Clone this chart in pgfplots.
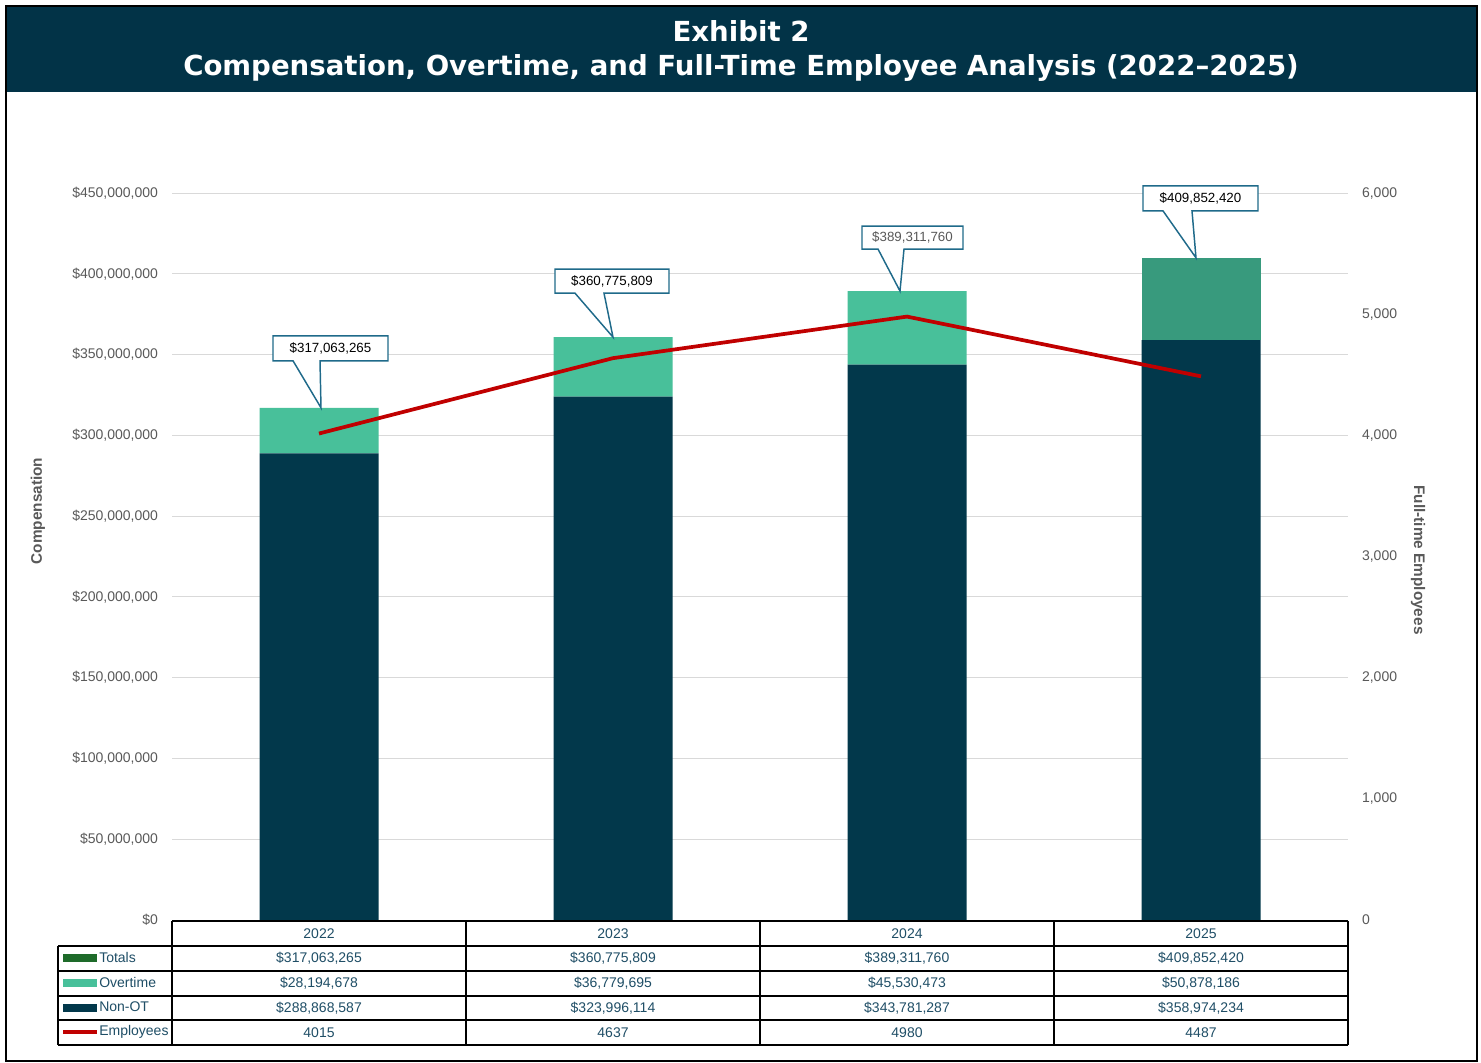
\documentclass[border=0pt]{standalone}
\usepackage{pgfplots}
\pgfplotsset{compat=1.18}
\usepackage{fontspec}
\setmainfont{Liberation Sans}
\newfontfamily\titlefont{DejaVu Sans}
\definecolor{navy}{HTML}{023347}
\definecolor{nonot}{HTML}{02384B}
\definecolor{ot}{HTML}{48C09A}
\definecolor{otdark}{HTML}{389A7D}
\definecolor{totg}{HTML}{1E6B2A}
\definecolor{empred}{HTML}{C00000}
\definecolor{tabtext}{HTML}{1F4E66}
\definecolor{callb}{HTML}{1F6A8A}
\definecolor{ticktxt}{HTML}{595959}
\definecolor{gridc}{HTML}{D9D9D9}
\newcommand{\nf}{\fontsize{10.5}{12}\selectfont}
\newcommand{\cf}{\fontsize{10}{12}\selectfont}
\begin{document}
\begin{tikzpicture}
% frame, title
\begin{scope}[x=0.75pt,y=-0.75pt]
\useasboundingbox (0,0) rectangle (1481,1063);
\fill[white] (0,0) rectangle (1481,1063);
\fill[navy] (7,7) rectangle (1477,92);
\draw[black, line width=1.5pt] (6,6) rectangle (1477,1061);
\node[text=white, font=\titlefont\bfseries\fontsize{20.7}{25}\selectfont, align=center] at (741,51)
  {Exhibit 2\\[1pt]Compensation, Overtime, and Full-Time Employee Analysis (2022–2025)};
\node[rotate=90, text=ticktxt, font=\bfseries\fontsize{11.5}{13}\selectfont] at (38,511) {Compensation};
\node[rotate=-90, text=ticktxt, font=\bfseries\fontsize{11.5}{13}\selectfont] at (1418,560) {Full-time Employees};
\end{scope}

\begin{axis}[
  at={(129pt,-690pt)}, anchor=south west,
  width=882pt, height=545.25pt, scale only axis,
  xmin=-0.5, xmax=3.5, ymin=0, ymax=450000000,
  ybar stacked, bar width=89.25pt,
  xtick=\empty,
  scaled y ticks=false,
  ytick={0,50000000,100000000,150000000,200000000,250000000,300000000,350000000,400000000,450000000},
  yticklabels={{\$0},{\$50,000,000},{\$100,000,000},{\$150,000,000},{\$200,000,000},{\$250,000,000},{\$300,000,000},{\$350,000,000},{\$400,000,000},{\$450,000,000}},
  ymajorgrids, grid style={gridc, line width=0.75pt},
  axis line style={draw=none},
  major tick length=0pt,
  yticklabel style={font=\nf, text=ticktxt, xshift=-7pt},
  clip=false,
]
\addplot[fill=nonot, draw=none] coordinates {(0,288868587) (1,323996114) (2,343781287) (3,358974234)};
\addplot[fill=ot, draw=none] coordinates {(0,28194678) (1,36779695) (2,45530473) (3,0)};
\addplot[fill=otdark, draw=none] coordinates {(0,0) (1,0) (2,0) (3,50878186)};
\coordinate (t0) at (axis cs:0,317063265);
\coordinate (t1) at (axis cs:1,360775809);
\coordinate (t2) at (axis cs:2,389311760);
\coordinate (t3) at (axis cs:3,409852420);
\end{axis}

\begin{axis}[
  at={(129pt,-690pt)}, anchor=south west,
  width=882pt, height=545.25pt, scale only axis,
  xmin=-0.5, xmax=3.5, ymin=0, ymax=6000,
  axis x line=none, axis y line*=right,
  axis line style={draw=none},
  major tick length=0pt,
  scaled y ticks=false,
  ytick={0,1000,2000,3000,4000,5000,6000},
  yticklabels={0,{1,000},{2,000},{3,000},{4,000},{5,000},{6,000}},
  yticklabel style={font=\nf, text=ticktxt, xshift=7pt},
  clip=false,
]
\addplot[empred, line width=2.8pt, mark=none] coordinates {(0,4015) (1,4637) (2,4980) (3,4487)};
\end{axis}

% callouts
\tikzset{callout/.style={fill=white, draw=callb, line width=1.1pt, line join=miter}}
\begin{scope}[shift={(t0)}, x=0.75pt, y=-0.75pt]
\draw[callout] (-46,-72) -- (69,-72) -- (69,-47) -- (1,-47) -- (2,0) -- (-26,-47) -- (-46,-47) -- cycle;
\node[font=\cf, text=black] at (11.5,-59.5) {\$317,063,265};
\end{scope}
\begin{scope}[shift={(t1)}, x=0.75pt, y=-0.75pt]
\draw[callout] (-58,-68) -- (56,-68) -- (56,-44) -- (-9,-44) -- (0,0) -- (-38,-44) -- (-58,-44) -- cycle;
\node[font=\cf, text=black] at (-1,-56) {\$360,775,809};
\end{scope}
\begin{scope}[shift={(t2)}, x=0.75pt, y=-0.75pt]
\draw[callout] (-45,-65) -- (56,-65) -- (56,-42) -- (-3,-42) -- (-7,0) -- (-29,-42) -- (-45,-42) -- cycle;
\node[font=\cf, text=ticktxt] at (5.5,-53.5) {\$389,311,760};
\end{scope}
\begin{scope}[shift={(t3)}, x=0.75pt, y=-0.75pt]
\draw[callout] (-58,-72) -- (57,-72) -- (57,-47) -- (-9,-47) -- (-5,0) -- (-38,-47) -- (-58,-47) -- cycle;
\node[font=\cf, text=black] at (-0.5,-59.5) {\$409,852,420};
\end{scope}

% data table
\begin{scope}[x=0.75pt,y=-0.75pt]
\draw[black, line width=1.1pt] (172,921) -- (1348,921);
\foreach \yy in {946,971,996,1020,1045} \draw[black, line width=1.1pt] (58,\yy) -- (1348,\yy);
\draw[black, line width=1.1pt] (58,946) -- (58,1045);
\foreach \xx in {172,466,760,1054,1348} \draw[black, line width=1.1pt] (\xx,921) -- (\xx,1045);
% header
\foreach \xx/\lab in {319/2022,613/2023,907/2024,1201/2025}
  \node[font=\nf, text=tabtext] at (\xx,933.5) {\lab};
% legend keys
\fill[totg] (63,954) rectangle (97,962);
\fill[ot] (63,979) rectangle (97,987);
\fill[nonot] (63,1004) rectangle (97,1012);
\draw[empred, line width=2.6pt] (63,1032) -- (97,1032);
\node[font=\nf, text=tabtext, anchor=west, inner sep=0pt] at (99,957) {Totals};
\node[font=\nf, text=tabtext, anchor=west, inner sep=0pt] at (99,982) {Overtime};
\node[font=\nf, text=tabtext, anchor=west, inner sep=0pt] at (99,1006.5) {Non-OT};
\node[font=\nf, text=tabtext, anchor=west, inner sep=0pt] at (99,1031.5) {Employees};
% values
\foreach \xx/\a/\b/\c/\d in {319/{\$317,063,265}/{\$28,194,678}/{\$288,868,587}/4015,
                             613/{\$360,775,809}/{\$36,779,695}/{\$323,996,114}/4637,
                             907/{\$389,311,760}/{\$45,530,473}/{\$343,781,287}/4980,
                             1201/{\$409,852,420}/{\$50,878,186}/{\$358,974,234}/4487}{
  \node[font=\nf, text=tabtext] at (\xx,958) {\a};
  \node[font=\nf, text=tabtext] at (\xx,983) {\b};
  \node[font=\nf, text=tabtext] at (\xx,1008) {\c};
  \node[font=\nf, text=tabtext] at (\xx,1032.5) {\d};
}
\end{scope}
\end{tikzpicture}
\end{document}
